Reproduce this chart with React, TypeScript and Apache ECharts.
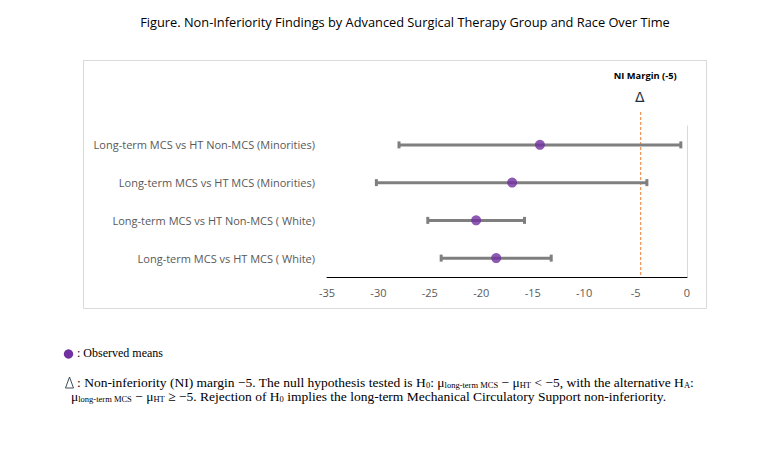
import React, { useEffect, useRef } from "react";
import * as echarts from "echarts";

const categories = [
  "Long-term MCS vs HT Non-MCS (Minorities)",
  "Long-term MCS vs HT MCS (Minorities)",
  "Long-term MCS vs HT Non-MCS ( White)",
  "Long-term MCS vs HT MCS ( White)",
];
const means = [-14.3, -17.0, -20.5, -18.55];
const lowerCI = [-28.0, -30.2, -25.2, -23.9];
const upperCI = [-0.6, -3.9, -15.8, -13.2];
const niLinePosition = [-4.5];
const xTicks = { min: -35, max: 0, interval: 5 };

const titleText =
  "Figure. Non-Inferiority Findings by Advanced Surgical Therapy Group and Race Over Time";

export default function App() {
  const ref = useRef<HTMLDivElement>(null);
  useEffect(() => {
    if (!ref.current) return;
    const chart = echarts.init(ref.current, null, { renderer: "svg" });
    const sans = "Open Sans";
    const serif = "Liberation Serif";
    const subStyle = { fontSize: 8.5, fontFamily: serif, color: "#000", verticalAlign: "bottom", lineHeight: 15 };
    const option: any = {
      animation: false,
      backgroundColor: "#fff",
      title: {
        text: titleText,
        left: 400,
        textAlign: "center",
        top: 10,
        textStyle: { fontFamily: sans, fontSize: 12.8, fontWeight: "normal", color: "#000" },
      },
      grid: { left: 327, right: 86, top: 126, bottom: 172, containLabel: false },
      xAxis: {
        type: "value",
        min: xTicks.min,
        max: xTicks.max,
        interval: xTicks.interval,
        axisLine: { show: true, lineStyle: { color: "#000", width: 1 } },
        axisTick: { show: false },
        splitLine: { show: false },
        axisLabel: { color: "#595959", fontFamily: sans, fontSize: 11, margin: 10 },
      },
      yAxis: [
        {
          type: "category",
          data: categories,
          inverse: true,
          axisLine: { show: false },
          axisTick: { show: false },
          splitLine: { show: false },
          axisLabel: { color: "#595959", fontFamily: sans, fontSize: 11, margin: 12 },
        },
        {
          type: "category",
          data: categories,
          inverse: true,
          position: "right",
          axisLine: { show: true, lineStyle: { color: "#d9d9d9", width: 1 } },
          axisTick: { show: false },
          axisLabel: { show: false },
          splitLine: { show: false },
        },
      ],
      graphic: [
        {
          type: "rect",
          shape: { x: 83.5, y: 60.5, width: 623, height: 248 },
          style: { fill: "none", stroke: "#d9d9d9", lineWidth: 1 },
          silent: true,
        },
        {
          type: "circle",
          shape: { cx: 68.5, cy: 354, r: 4.7 },
          style: { fill: "#7030a0" },
        },
        {
          type: "text",
          x: 77,
          y: 353,
          style: {
            text: ": Observed means",
            fontFamily: serif,
            fontSize: 12,
            fill: "#000",
            verticalAlign: "middle",
          },
        },
        {
          type: "polygon",
          shape: { points: [[69.5, 377], [65.5, 388], [73.5, 388]] },
          style: { fill: "none", stroke: "#2a3a4a", lineWidth: 0.9 },
        },
        {
          type: "text",
          x: 77,
          y: 382,
          style: {
            text:
              ": Non-inferiority (NI) margin −5. The null hypothesis tested is H{sub|0}: μ{sub|long-term MCS} − μ{sub|HT} < −5, with the alternative H{sub|A}:",
            fontFamily: serif,
            fontSize: 13.5,
            fill: "#000",
            verticalAlign: "middle",
            rich: { sub: subStyle },
          },
        },
        {
          type: "text",
          x: 71,
          y: 396,
          style: {
            text:
              "μ{sub|long-term MCS} − μ{sub|HT} ≥ −5. Rejection of H{sub|0} implies the long-term Mechanical Circulatory Support non-inferiority.",
            fontFamily: serif,
            fontSize: 13.5,
            fill: "#000",
            verticalAlign: "middle",
            rich: { sub: subStyle },
          },
        },
      ],
      series: [
        {
          type: "custom",
          name: "CI",
          data: categories.map((c, i) => [lowerCI[i], upperCI[i], i]),
          encode: { x: [0, 1], y: 2 },
          renderItem: (params: any, api: any) => {
            const lo = api.coord([api.value(0), api.value(2)]);
            const hi = api.coord([api.value(1), api.value(2)]);
            const h = 3.5;
            const st = { stroke: "#7f7f7f", lineWidth: 3 };
            return {
              type: "group",
              children: [
                { type: "line", shape: { x1: lo[0], y1: lo[1], x2: hi[0], y2: hi[1] }, style: st },
                { type: "line", shape: { x1: lo[0], y1: lo[1] - h, x2: lo[0], y2: lo[1] + h }, style: st },
                { type: "line", shape: { x1: hi[0], y1: hi[1] - h, x2: hi[0], y2: hi[1] + h }, style: st },
              ],
            };
          },
          z: 2,
        },
        {
          type: "scatter",
          name: "Observed means",
          data: categories.map((c, i) => [means[i], i]),
          symbol: "circle",
          symbolSize: 10,
          itemStyle: { color: "#7030a0" },
          z: 3,
        },
        {
          type: "custom",
          name: "NI margin",
          data: niLinePosition.map((v) => [v]),
          encode: { x: 0 },
          renderItem: (params: any, api: any) => {
            const cs = params.coordSys;
            const x = api.coord([api.value(0), 0])[0];
            const bottom = cs.y + cs.height;
            const top = cs.y - 14;
            return {
              type: "group",
              children: [
                {
                  type: "line",
                  shape: { x1: x, y1: top, x2: x, y2: bottom },
                  style: { stroke: "#ed7d31", lineWidth: 1, lineDash: [3, 2] },
                },
                {
                  type: "text",
                  x: x - 1,
                  y: top - 15,
                  style: {
                    text: "Δ",
                    fontFamily: "DejaVu Sans ExtraLight, DejaVu Sans",
                    fontSize: 14,
                    fill: "#1f3040",
                    align: "center",
                    verticalAlign: "middle",
                  },
                },
                {
                  type: "text",
                  x: x + 4.5,
                  y: top - 37,
                  style: {
                    text: "NI Margin (-5)",
                    fontFamily: sans,
                    fontSize: 9.3,
                    fontWeight: "bold",
                    fill: "#000",
                    align: "center",
                    verticalAlign: "middle",
                  },
                },
              ],
            };
          },
          z: 1,
        },
      ],
    };
    chart.setOption(option);
    return () => chart.dispose();
  }, []);
  return (
    <div
      ref={ref}
      style={{ position: "fixed", left: 0, top: 0, width: 773, height: 449, background: "#fff" }}
    />
  );
}
